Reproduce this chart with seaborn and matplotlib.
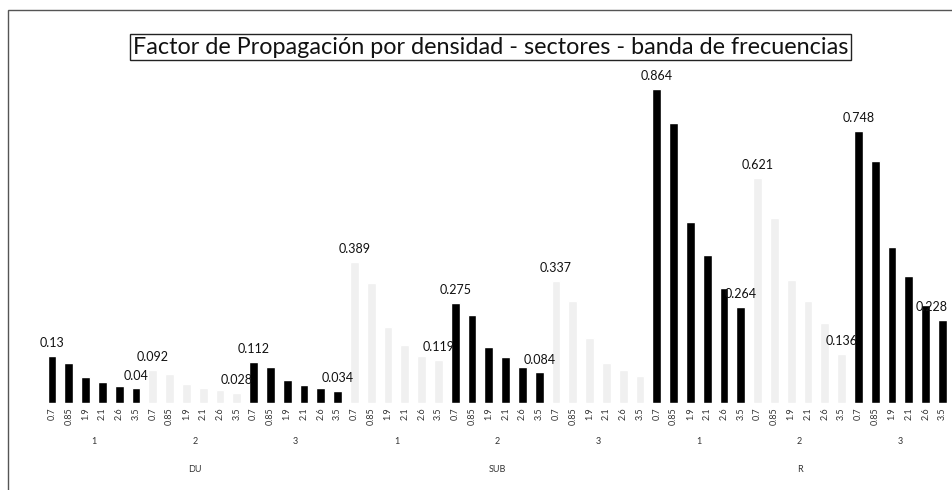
import matplotlib
matplotlib.use("Agg")
import numpy as np
import pandas as pd
import matplotlib.pyplot as plt
import seaborn as sns
from matplotlib.patches import Rectangle
from matplotlib.transforms import blended_transform_factory

# categorias del eje (3 niveles)
densidades = ["DU", "SUB", "R"]
sectores = ["1", "2", "3"]
bandas = ["0.7", "0.85", "1.9", "2.1", "2.6", "3.5"]

# factor de propagacion, un grupo de 6 bandas por densidad/sector
du_s1 = [0.130, 0.110, 0.072, 0.058, 0.047, 0.040]
du_s2 = [0.092, 0.080, 0.052, 0.042, 0.035, 0.028]
du_s3 = [0.112, 0.100, 0.063, 0.050, 0.040, 0.034]
sub_s1 = [0.389, 0.330, 0.210, 0.160, 0.130, 0.119]
sub_s2 = [0.275, 0.242, 0.154, 0.127, 0.100, 0.084]
sub_s3 = [0.337, 0.280, 0.180, 0.110, 0.090, 0.075]
r_s1 = [0.864, 0.771, 0.499, 0.408, 0.317, 0.264]
r_s2 = [0.621, 0.510, 0.340, 0.280, 0.220, 0.136]
r_s3 = [0.748, 0.667, 0.430, 0.350, 0.270, 0.228]

grupos = [du_s1, du_s2, du_s3, sub_s1, sub_s2, sub_s3, r_s1, r_s2, r_s3]
# tono de cada grupo tal como sale en la copia escaneada
tonos = ["oscuro", "claro", "oscuro", "claro", "oscuro", "claro", "oscuro", "claro", "oscuro"]
# puntos con etiqueta de dato (primera y ultima banda de cada grupo)
etiquetados = [0, 5, 6, 11, 12, 17, 18, 23, 24, 29, 30, 36, 41, 42, 47, 48, 53]

rows = []
for g, vals in enumerate(grupos):
    for b, v in enumerate(vals):
        rows.append({"pos": g * len(bandas) + b, "banda": bandas[b],
                     "tono": tonos[g], "valor": v})
df = pd.DataFrame(rows)

sns.set_style("white")
plt.rcParams["font.family"] = ["Lato", "DejaVu Sans"]

fig = plt.figure(figsize=(9.52, 4.90), dpi=100)
ax = fig.add_axes([0.0458, 0.1776, 0.953, 0.6816])

sns.barplot(data=df, x="pos", y="valor", hue="tono",
            palette={"oscuro": "#000000", "claro": "#f0f0f0"},
            dodge=False, width=0.52, legend=False, ax=ax)

ax.set_ylim(0, 0.92)
ax.set_xlim(-0.5, len(df) - 0.5)
ax.set_xlabel("")
ax.set_ylabel("")
ax.set_yticks([])
ax.set_xticks(df["pos"])
ax.set_xticklabels(df["banda"], rotation=90, fontsize=6.5, color="#333333")
ax.tick_params(axis="x", length=0, pad=3)
for s in ax.spines.values():
    s.set_visible(False)

# etiquetas de datos
ultimo = len(df) - 1
for i in etiquetados:
    v = df.loc[i, "valor"]
    if i == ultimo:
        # pegada al borde derecho, se alinea a la derecha para que no se corte
        ax.annotate(f"{v:g}", (df.loc[i, "pos"], v), xytext=(4, 5),
                    textcoords="offset points", ha="right", va="bottom",
                    fontsize=9, color="#111111")
    else:
        ax.annotate(f"{v:g}", (df.loc[i, "pos"], v), xytext=(0, 5),
                    textcoords="offset points", ha="center", va="bottom",
                    fontsize=9, color="#111111")

# niveles 2 y 3 del eje de categorias
tr = blended_transform_factory(ax.transData, ax.transAxes)
n = len(bandas)
for g in range(len(grupos)):
    ax.text(g * n + (n - 1) / 2, -0.115, sectores[g % len(sectores)],
            transform=tr, ha="center", va="center", fontsize=6.5, color="#333333")
for d, name in enumerate(densidades):
    c = d * n * len(sectores) + (n * len(sectores) - 1) / 2
    ax.text(c, -0.2, name, transform=tr, ha="center", va="center",
            fontsize=6.5, color="#333333")

fig.text(0.515, 1 - 47 / 490,
         "Factor de Propagación por densidad - sectores - banda de frecuencias",
         ha="center", va="center", fontsize=16.8, color="#111111",
         bbox=dict(boxstyle="square,pad=0.12", fc="white", ec="#222222", lw=1))

fig.patches.append(Rectangle((8 / 952, -0.05), 1.1, 1.05 - 10 / 490,
                             transform=fig.transFigure, fill=False,
                             ec="#555555", lw=1))

fig.savefig("out.png", dpi=100)
